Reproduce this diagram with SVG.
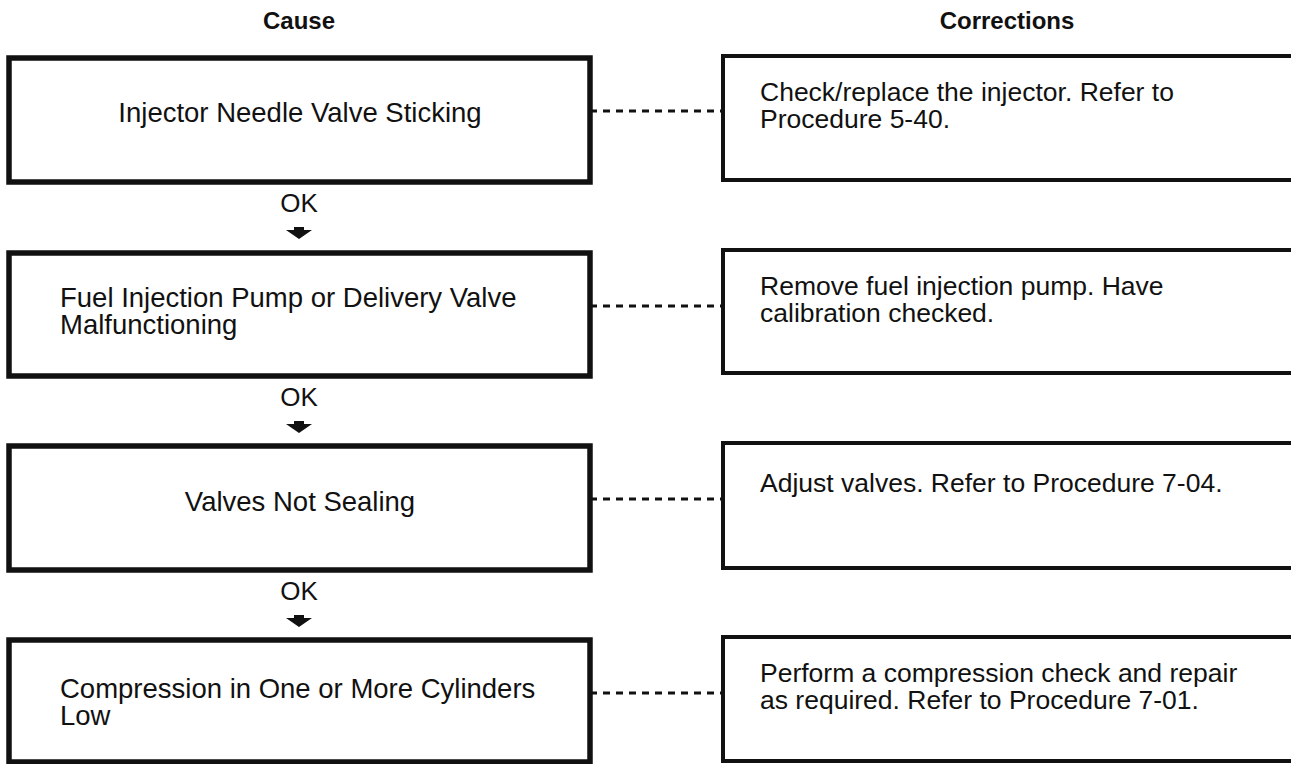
<svg xmlns="http://www.w3.org/2000/svg" width="1291" height="764" viewBox="0 0 1291 764">
<style>
.bg{fill:#fff}
.cause{fill:#fff;stroke:#111;stroke-width:5.5}
.corr{fill:#fff;stroke:#111;stroke-width:4}
.dash{stroke:#111;stroke-width:3;stroke-dasharray:7 6;fill:none}
.t{font-family:"Liberation Sans",Arial,sans-serif;font-size:26.5px;fill:#111}
.c{font-family:"Liberation Sans",Arial,sans-serif;font-size:27.5px;fill:#111}
.ok{font-family:"Liberation Sans",Arial,sans-serif;font-size:26px;fill:#111}
.h{font-family:"Liberation Sans",Arial,sans-serif;font-size:24px;font-weight:bold;fill:#111}
.arr{fill:#111}
</style>
<rect class="bg" x="0" y="0" width="1291" height="764"/>
<g id="headers">
<text class="h" x="299" y="29" text-anchor="middle">Cause</text>
<text class="h" x="1007" y="29" text-anchor="middle">Corrections</text>
</g>
<g id="connectors">
<line class="dash" x1="590" y1="111" x2="723" y2="111"/>
<line class="dash" x1="590" y1="306" x2="723" y2="306"/>
<line class="dash" x1="590" y1="499" x2="723" y2="499"/>
<line class="dash" x1="590" y1="693" x2="723" y2="693"/>
<g id="ok1"><text class="ok" x="299" y="212" text-anchor="middle">OK</text><polygon class="arr" points="294,227 304,227 304,230 312,230 299,239 286,230 294,230"/></g>
<g id="ok2"><text class="ok" x="299" y="406" text-anchor="middle">OK</text><polygon class="arr" points="294,421 304,421 304,424 312,424 299,433 286,424 294,424"/></g>
<g id="ok3"><text class="ok" x="299" y="600" text-anchor="middle">OK</text><polygon class="arr" points="294,615 304,615 304,618 312,618 299,627 286,618 294,618"/></g>
</g>
<g id="cause1"><rect class="cause" x="9" y="58" width="581" height="124"/><text class="c" x="300" y="122" text-anchor="middle">Injector Needle Valve Sticking</text></g>
<g id="corr1"><rect class="corr" x="723" y="56" width="600" height="124"/><text class="t" x="760" y="101">Check/replace the injector. Refer to</text><text class="t" x="760" y="128">Procedure 5-40.</text></g>
<g id="cause2"><rect class="cause" x="9" y="253" width="581" height="123"/><text class="c" x="60" y="307">Fuel Injection Pump or Delivery Valve</text><text class="c" x="60" y="334">Malfunctioning</text></g>
<g id="corr2"><rect class="corr" x="723" y="250" width="600" height="123"/><text class="t" x="760" y="295">Remove fuel injection pump. Have</text><text class="t" x="760" y="322">calibration checked.</text></g>
<g id="cause3"><rect class="cause" x="9" y="446" width="581" height="124"/><text class="c" x="300" y="511" text-anchor="middle">Valves Not Sealing</text></g>
<g id="corr3"><rect class="corr" x="723" y="443" width="600" height="125"/><text class="t" x="760" y="492">Adjust valves. Refer to Procedure 7-04.</text></g>
<g id="cause4"><rect class="cause" x="9" y="640" width="581" height="122"/><text class="c" x="60" y="698">Compression in One or More Cylinders</text><text class="c" x="60" y="725">Low</text></g>
<g id="corr4"><rect class="corr" x="723" y="637" width="600" height="124"/><text class="t" x="760" y="682">Perform a compression check and repair</text><text class="t" x="760" y="709">as required. Refer to Procedure 7-01.</text></g>
</svg>
